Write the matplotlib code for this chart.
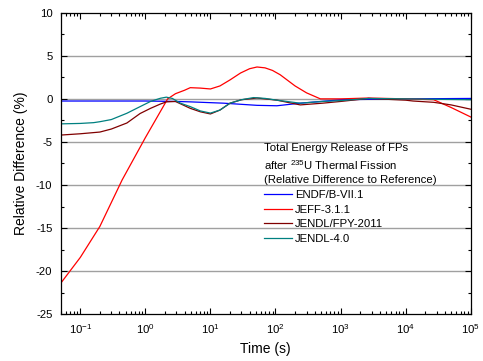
import numpy as np
from matplotlib import pyplot as plt
from matplotlib.ticker import FixedLocator, MultipleLocator, NullFormatter

plt.rcParams['font.family'] = ['Liberation Sans', 'DejaVu Sans']
plt.rcParams['mathtext.fontset'] = 'custom'
plt.rcParams['mathtext.rm'] = 'Liberation Sans'
plt.rcParams['mathtext.it'] = 'Liberation Sans:italic'
plt.rcParams['axes.unicode_minus'] = False

# ENDF/B-VII.1
endf_t = [0.05, 0.1, 1, 3, 5, 16, 52, 105, 240, 600, 1000, 1e4, 1e5]
endf_v = [-0.25, -0.25, -0.25, -0.3, -0.35, -0.5, -0.75, -0.8, -0.5, -0.25, -0.1, 0.0, 0.05]

# JEFF-3.1.1
jeff_t = [0.05, 0.1, 0.2, 0.44, 1.0, 2.2, 2.9, 4.0, 4.9, 7, 10, 14, 20, 29, 40, 52, 69, 90,
          118, 200, 300, 490, 1000, 2700, 1e4, 2.7e4, 5e4, 1e5]
jeff_v = [-21.4, -18.4, -14.8, -9.4, -4.5, 0.0, 0.6, 1.0, 1.3, 1.25, 1.15, 1.5, 2.2, 3.0, 3.5,
          3.7, 3.6, 3.3, 2.8, 1.5, 0.7, 0.0, 0.0, 0.1, 0.0, -0.1, -1.0, -2.1]

# JENDL/FPY-2011
fpy_t = [0.05, 0.1, 0.2, 0.3, 0.52, 0.83, 1.2, 1.7, 2.1, 2.9, 4.9, 7, 10, 14, 20, 30, 52, 105,
         240, 530, 1000, 2700, 1e4, 1.3e4, 2.7e4, 5e4, 1e5]
fpy_v = [-4.2, -4.05, -3.85, -3.5, -2.8, -1.7, -1.1, -0.6, -0.35, -0.3, -1.1, -1.5, -1.75, -1.3,
         -0.5, -0.1, 0.1, -0.15, -0.7, -0.5, -0.3, 0.05, -0.15, -0.25, -0.4, -0.7, -1.2]

# JENDL-4.0
j40_t = [0.05, 0.1, 0.16, 0.2, 0.3, 0.52, 0.83, 1.2, 1.7, 2.1, 2.6, 3.45, 4.9, 7, 10, 14, 20, 30,
         46, 70, 105, 240, 530, 1000, 2700, 1e4, 1e5]
j40_v = [-2.9, -2.85, -2.76, -2.65, -2.4, -1.67, -0.9, -0.3, 0.07, 0.2, 0.05, -0.5, -0.9, -1.4,
         -1.65, -1.3, -0.5, -0.1, 0.15, 0.05, -0.15, -0.5, -0.3, -0.2, 0.05, 0.0, -0.1]

labels = ["ENDF/B-VII.1", "JEFF-3.1.1", "JENDL/FPY-2011", "JENDL-4.0"]
colors = ["#0000ff", "#ff0000", "#800000", "#008080"]

xticks = [1e-1, 1e0, 1e1, 1e2, 1e3, 1e4, 1e5]

fig = plt.figure(figsize=(4.83, 3.61), dpi=100)
ax = fig.add_axes([0.1257, 0.1294, 0.8488, 0.8354])

series = [(endf_t, endf_v), (jeff_t, jeff_v), (fpy_t, fpy_v), (j40_t, j40_v)]
for (t, v), lab, col in zip(series, labels, colors):
    ax.plot(t, v, color=col, lw=0.9, label=lab)

ax.set_xscale('log')
ax.set_xlim(0.05, 1e5)
ax.set_ylim(-25, 10)
ax.yaxis.set_major_locator(MultipleLocator(5))
ax.yaxis.set_minor_locator(MultipleLocator(2.5))
ax.set_xticks(xticks)
minors = [m * 10.0**e for e in range(-2, 5) for m in range(2, 10) if 0.05 <= m * 10.0**e <= 1e5]
ax.xaxis.set_minor_locator(FixedLocator(minors))
ax.xaxis.set_minor_formatter(NullFormatter())

for yg in [-20, -15, -10, -5, 0, 5]:
    ax.axhline(yg, color='#a0a0a0', lw=1.0, zorder=0)

ax.tick_params(which='both', direction='in', top=True, right=True, labelsize=8.2, width=0.8)
ax.tick_params(which='major', length=4)
ax.tick_params(which='minor', length=2.5)
ax.tick_params(axis='x', pad=6)
ax.tick_params(axis='y', pad=6)
for s in ax.spines.values():
    s.set_linewidth(0.9)

ax.set_xlabel("Time (s)", fontsize=10)
ax.set_ylabel("Relative Difference (%)", fontsize=10, labelpad=6)

leg = ax.legend(loc='upper left', bbox_to_anchor=(0.497, 0.567), frameon=False, fontsize=8.2,
                title="Total Energy Release of FPs\nafter $^{235}$U Thermal Fission\n(Relative Difference to Reference)",
                title_fontsize=8.2, alignment='left', handlelength=2.4, handletextpad=0.3,
                labelspacing=0.42, borderaxespad=0, borderpad=0)
leg.get_title().set_linespacing(1.4)

plt.savefig("out.png", dpi=100)
